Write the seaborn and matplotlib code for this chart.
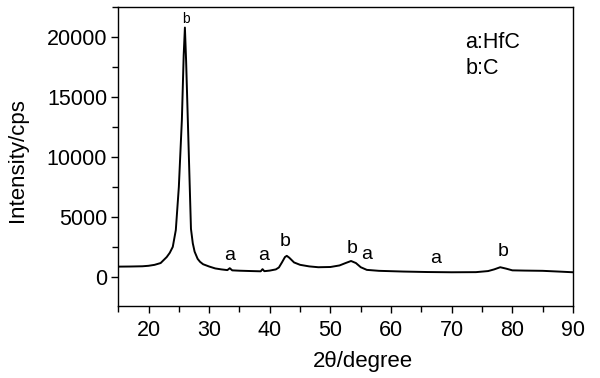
import numpy as np
import pandas as pd
import matplotlib
matplotlib.use('Agg')
import matplotlib.pyplot as plt
import seaborn as sns
from matplotlib.ticker import MultipleLocator

# XRD 数据
two_theta = [15, 17, 19, 20, 21, 22, 23, 23.5, 24, 24.5, 25, 25.5, 25.8, 26.0,
             26.2, 26.6, 27.0, 27.3, 27.6, 28.1, 28.5, 29, 30, 31, 32, 33, 33.4,
             33.8, 35, 37, 38.5, 38.8, 39.1, 40, 41, 41.5, 42, 42.5, 42.8, 43.2,
             44, 45, 46.5, 48, 50, 51.5, 52.5, 53.4, 54.2, 55, 56, 58, 62, 66,
             70, 74, 76, 77, 78, 79, 80, 82, 85, 88, 90]
intensity = [850, 860, 880, 920, 1000, 1150, 1650, 2000, 2500, 3900, 7500, 13100,
             18500, 20800, 18000, 11000, 4000, 2800, 2100, 1500, 1250, 1050, 860,
             700, 620, 560, 720, 540, 510, 480, 460, 640, 470, 520, 620, 780,
             1200, 1650, 1750, 1600, 1200, 1000, 870, 800, 820, 950, 1150, 1320,
             1150, 800, 580, 500, 440, 400, 380, 390, 480, 620, 800, 680, 540,
             520, 500, 430, 380]

# 峰标注
peak_labels = ['b', 'a', 'a', 'b', 'b', 'a', 'a', 'b']
peak_x = [26.2, 33.3, 38.9, 42.6, 53.6, 55.9, 67.3, 78.4]
peak_y = [21500, 1750, 1750, 2950, 2400, 1830, 1500, 2100]
peak_size = [10, 14, 14, 14, 14, 14, 14, 14]

df = pd.DataFrame({'2theta': two_theta, 'intensity': intensity})

sns.set_style('ticks')
plt.rcParams['font.family'] = ['Liberation Sans', 'DejaVu Sans']
for k in ['text.color', 'axes.labelcolor', 'xtick.color', 'ytick.color', 'axes.edgecolor']:
    plt.rcParams[k] = 'black'

fig = plt.figure(figsize=(6, 3.78), dpi=100)
ax = fig.add_axes([0.197, 0.19, 0.758, 0.791])
sns.lineplot(data=df, x='2theta', y='intensity', color='black', linewidth=1.4, ax=ax)

for lab, px, py, fs in zip(peak_labels, peak_x, peak_y, peak_size):
    ax.text(px, py, lab, ha='center', va='center', fontsize=fs)

ax.text(0.763, 0.883, 'a:HfC', transform=ax.transAxes, fontsize=15.5, va='center')
ax.text(0.763, 0.795, 'b:C', transform=ax.transAxes, fontsize=15.5, va='center')

ax.set_xlim(15, 90)
ax.set_ylim(-2450, 22500)
ax.xaxis.set_major_locator(MultipleLocator(10))
ax.xaxis.set_minor_locator(MultipleLocator(5))
ax.yaxis.set_major_locator(MultipleLocator(5000))
ax.yaxis.set_minor_locator(MultipleLocator(2500))
ax.tick_params(which='major', length=5, width=1, labelsize=15.5)
ax.tick_params(which='minor', length=4, width=1)
ax.tick_params(axis='x', pad=5)
ax.tick_params(axis='y', pad=3)
for s in ax.spines.values():
    s.set_linewidth(1)
ax.set_xlabel('2θ/degree', fontsize=16, va='top')
ax.set_ylabel('Intensity/cps', fontsize=16)
ax.xaxis.set_label_coords(0.538, -0.150)
ax.yaxis.set_label_coords(-0.198, 0.488)

fig.savefig('out.png', dpi=100)
